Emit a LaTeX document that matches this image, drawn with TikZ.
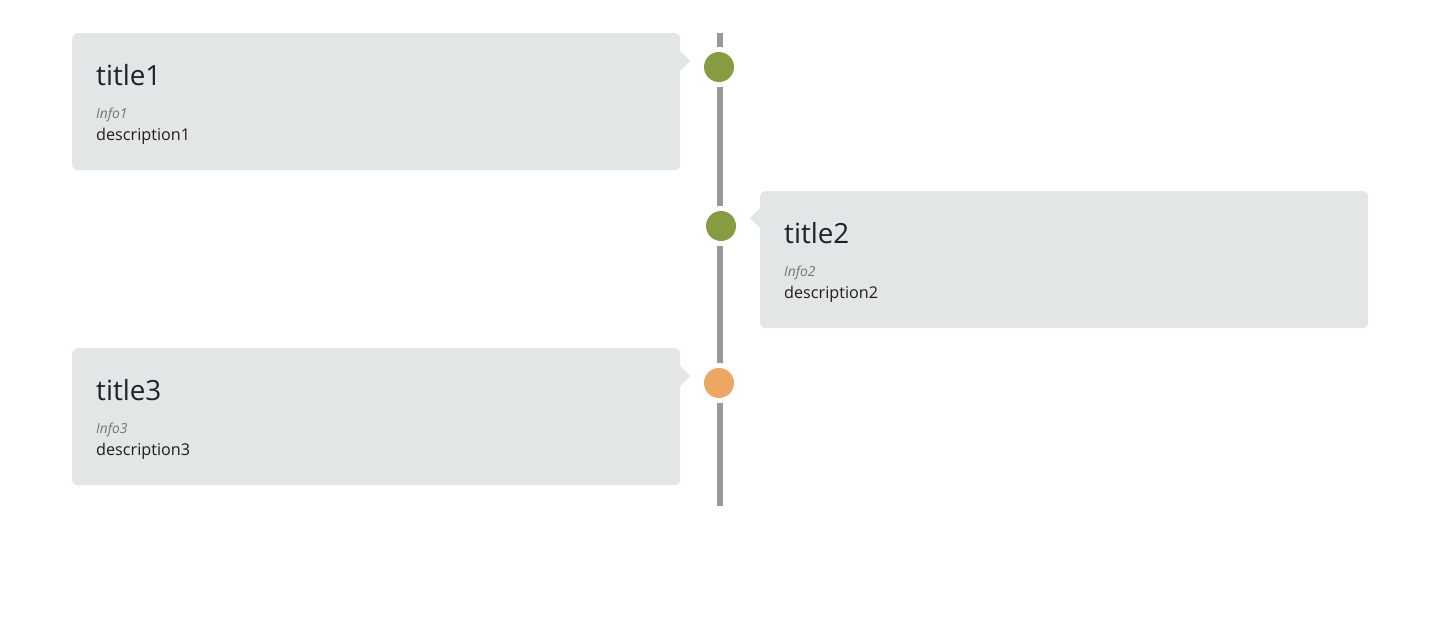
\documentclass[tikz,border=0pt]{standalone}
\usepackage{fontspec}
\setmainfont{Open Sans}
\definecolor{cardbg}{HTML}{E2E6E7}
\definecolor{dotgreen}{HTML}{879C41}
\definecolor{dotorange}{HTML}{EDA664}
\definecolor{linegray}{HTML}{999999}
\definecolor{titlecol}{HTML}{1E222A}
\definecolor{infocol}{HTML}{747474}
\definecolor{desccol}{HTML}{1E1E1E}
\tikzset{
  card/.style={fill=cardbg, rounded corners=5pt, anchor=north west, minimum width=608pt, minimum height=137pt, inner sep=0pt},
  pointer/.style={fill=cardbg},
  ttl/.style={anchor=base west, inner sep=0pt, text=titlecol, font=\fontsize{27.8}{32}\selectfont},
  info/.style={anchor=base west, inner sep=0pt, text=infocol, font=\fontsize{13.8}{16}\selectfont\itshape},
  desc/.style={anchor=base west, inner sep=0pt, text=desccol, font=\fontsize{16.2}{19}\selectfont},
  dot/.style={circle, inner sep=0pt, minimum size=30pt, fill=#1, preaction={draw=white, line width=10pt}},
  axis/.style={draw=linegray, line width=6pt}
}
\begin{document}
\begin{tikzpicture}[x=1pt,y=-1pt]
\useasboundingbox (0,0) rectangle (1446,624);
\fill[white] (0,0) rectangle (1446,624);
% timeline
\coordinate (ltop) at (720,33);
\coordinate (lbot) at (720,506);
\draw[axis] (ltop) -- (lbot);
% card 1
\node[card] (c1) at (72,33) {};
\fill[pointer] (680,51) -- (690,61) -- (680,71) -- cycle;
\node[ttl] (t1) at (96,85) {title1};
\node[info] (i1) at (96,118) {Info1};
\node[desc] (e1) at (96,140) {description1};
% card 2
\node[card] (c2) at (760,191) {};
\fill[pointer] (760,208) -- (750,218) -- (760,228) -- cycle;
\node[ttl] (t2) at (784,243) {title2};
\node[info] (i2) at (784,276) {Info2};
\node[desc] (e2) at (784,298) {description2};
% card 3
\node[card] (c3) at (72,348) {};
\fill[pointer] (680,366) -- (690,376) -- (680,386) -- cycle;
\node[ttl] (t3) at (96,400) {title3};
\node[info] (i3) at (96,433) {Info3};
\node[desc] (e3) at (96,455) {description3};
% dots
\node[dot=dotgreen] (d1) at (719,67) {};
\node[dot=dotgreen] (d2) at (721,226) {};
\node[dot=dotorange] (d3) at (719,383) {};
\end{tikzpicture}
\end{document}
